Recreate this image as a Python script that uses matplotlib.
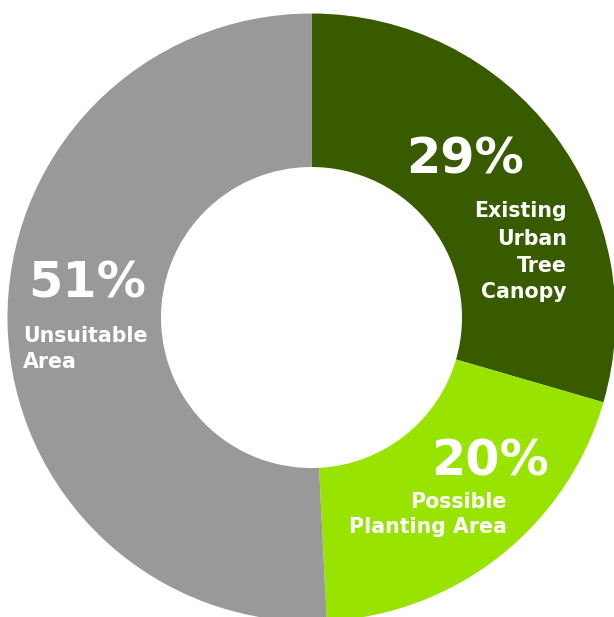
import matplotlib
matplotlib.use("Agg")
import matplotlib.pyplot as plt

# Data
categories = ["Existing Urban Tree Canopy", "Possible Planting Area", "Unsuitable Area"]
values = [29.5, 19.7, 50.8]          # wedge sizes
pct_labels = ["29%", "20%", "51%"]
name_lines = [["Existing", "Urban", "Tree", "Canopy"],
              ["Possible", "Planting Area"],
              ["Unsuitable", "Area"]]
colors = ["#385b00", "#98e400", "#999999"]

W, H = 614, 617
fig = plt.figure(figsize=(W / 100, H / 100), dpi=100)
ax = fig.add_axes([0, 0, 1, 1])
ax.set_xlim(0, W)
ax.set_ylim(0, H)
ax.set_aspect("equal")
ax.axis("off")

cx, cy = 311.5, H - 317.5
R = 304
ax.pie(values, colors=colors, startangle=90, counterclock=False,
       center=(cx, cy), radius=R,
       wedgeprops=dict(width=R - 150.5, linewidth=0))
ax.set_xlim(0, W)
ax.set_ylim(0, H)

def Y(y):
    return H - y

font = "DejaVu Sans"
big = 35.5
small = 14.8

# percentage labels (x, baseline y, ha)
pct_pos = [(465, 173, "center"), (490, 475, "center"), (87, 298, "center")]
for txt, (x, y, ha) in zip(pct_labels, pct_pos):
    ax.text(x, Y(y), txt, color="white", fontsize=big, fontweight="bold",
            family=font, ha=ha, va="baseline")

# category names
name_pos = [
    (567, [217, 245, 272, 298], "right"),
    (507, [508, 533], "right"),
    (23, [342, 368], "left"),
]
for lines, (x, ys, ha) in zip(name_lines, name_pos):
    for line, y in zip(lines, ys):
        ax.text(x, Y(y), line, color="white", fontsize=small, fontweight="bold",
                family=font, ha=ha, va="baseline")

fig.savefig("out.png", dpi=100, facecolor="white")
